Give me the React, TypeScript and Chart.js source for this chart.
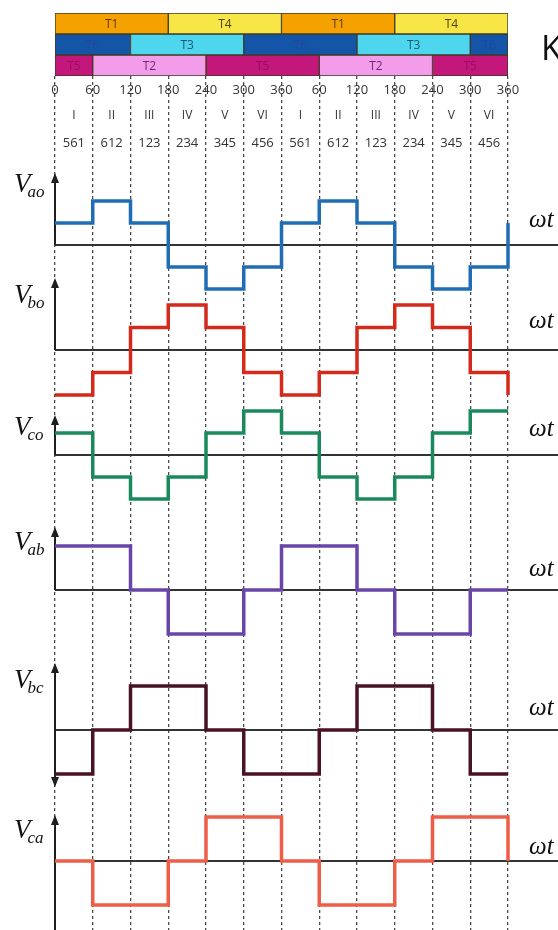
import React, { useEffect, useRef } from "react";
import { Chart, registerables } from "chart.js";

Chart.register(...registerables);

// ---------- data ----------
const angleTickLabels = ["0", "60", "120", "180", "240", "300", "360", "60", "120", "180", "240", "300", "360"];
const sectorNames = ["I", "II", "III", "IV", "V", "VI", "I", "II", "III", "IV", "V", "VI"];
const onSwitches = ["561", "612", "123", "234", "345", "456", "561", "612", "123", "234", "345", "456"];

const switchRows = ["T1/T4", "T6/T3", "T5/T2"];
const row1Names = ["T1", "T4", "T1", "T4"];
const row1Edges = [0, 180, 360, 540, 720];
const row2Names = ["T6", "T3", "T6", "T3", "T6"];
const row2Edges = [0, 120, 300, 480, 660, 720];
const row3Names = ["T5", "T2", "T5", "T2", "T5"];
const row3Edges = [0, 60, 240, 420, 600, 720];

// step start angles (last point = value right at 720)
const angles = [0, 60, 120, 180, 240, 300, 360, 420, 480, 540, 600, 660, 720];
// phase voltages in units of Vdc/3
const vao = [1, 2, 1, -1, -2, -1, 1, 2, 1, -1, -2, -1, 1];
const vbo = [-2, -1, 1, 2, 1, -1, -2, -1, 1, 2, 1, -1, -2];
const vco = [1, -1, -2, -1, 1, 2, 1, -1, -2, -1, 1, 2, 2];
// line voltages in units of Vdc
const vab = [1, 1, 0, -1, -1, 0, 1, 1, 0, -1, -1, 0, 0];
const vbc = [-1, 0, 1, 1, 0, -1, -1, 0, 1, 1, 0, -1, -1];
const vca = [0, -1, -1, 0, 1, 1, 0, -1, -1, 0, 1, 1, 0];

// ---------- styles / layout ----------
const switchColors: Record<string, string> = {
  T1: "#f5a200",
  T4: "#f8e546",
  T6: "#1455a8",
  T3: "#4fd6ef",
  T5: "#c3177c",
  T2: "#f39cea",
};
const switchTextColors: Record<string, string> = {
  T1: "#5a3800",
  T4: "#4a4400",
  T6: "#1d48a0",
  T3: "#17586e",
  T5: "#9a0d60",
  T2: "#6a2a78",
};

const CHART_TOP = 76;
const CHART_BOTTOM = 930;

const panels = [
  { id: "yao", sub: "ao", values: vao, color: "#1f6db5", zeroPx: 245, ppu: 22, axisUp: 72, axisDown: 0, downArrow: false, labelDy: -53, wtDy: -18 },
  { id: "ybo", sub: "bo", values: vbo, color: "#d42a1c", zeroPx: 350, ppu: 22.5, axisUp: 72, axisDown: 0, downArrow: false, labelDy: -47, wtDy: -22 },
  { id: "yco", sub: "co", values: vco, color: "#1a8a5c", zeroPx: 455, ppu: 22, axisUp: 40, axisDown: 0, downArrow: false, labelDy: -20, wtDy: -19 },
  { id: "yab", sub: "ab", values: vab, color: "#6a45a8", zeroPx: 590, ppu: 44, axisUp: 63, axisDown: 0, downArrow: false, labelDy: -40, wtDy: -14 },
  { id: "ybc", sub: "bc", values: vbc, color: "#4a1226", zeroPx: 730, ppu: 44, axisUp: 67, axisDown: 57, downArrow: true, labelDy: -42, wtDy: -15 },
  { id: "yca", sub: "ca", values: vca, color: "#ee5d47", zeroPx: 861, ppu: 44, axisUp: 46, axisDown: 69, downArrow: false, labelDy: -23, wtDy: -7 },
];

function drawArrow(ctx: CanvasRenderingContext2D, x: number, tipY: number, dir: number) {
  // dir -1 = up, 1 = down
  ctx.beginPath();
  ctx.moveTo(x, tipY);
  ctx.lineTo(x - 4, tipY - dir * 10);
  ctx.lineTo(x + 4, tipY - dir * 10);
  ctx.closePath();
  ctx.fill();
}

const barLabelPlugin = {
  id: "barLabels",
  afterDatasetsDraw(chart: any) {
    const ctx = chart.ctx;
    ctx.save();
    ctx.font = "12px 'Open Sans', 'Noto Sans', sans-serif";
    ctx.textAlign = "center";
    ctx.textBaseline = "middle";
    chart.data.datasets.forEach((ds: any, di: number) => {
      const meta = chart.getDatasetMeta(di);
      meta.data.forEach((el: any, i: number) => {
        if (ds.data[i] == null) return;
        const c = el.getCenterPoint();
        ctx.fillStyle = switchTextColors[ds.label] || "#222";
        ctx.fillText(ds.label, c.x, c.y + 1);
      });
    });
    ctx.restore();
  },
};

const decorPlugin = {
  id: "decor",
  beforeDatasetsDraw(chart: any) {
    const ctx = chart.ctx as CanvasRenderingContext2D;
    const left = chart.chartArea.left;
    ctx.save();
    panels.forEach((p) => {
      const y0 = chart.scales[p.id].getPixelForValue(0);
      ctx.strokeStyle = "#333";
      ctx.lineWidth = 2;
      ctx.beginPath();
      ctx.moveTo(left, y0);
      ctx.lineTo(chart.width, y0);
      ctx.stroke();
      const top = y0 - p.axisUp;
      const bottom = y0 + p.axisDown;
      ctx.strokeStyle = "#1e1e1e";
      ctx.fillStyle = "#1e1e1e";
      ctx.beginPath();
      ctx.moveTo(left, top + 6);
      ctx.lineTo(left, p.downArrow ? bottom - 6 : bottom);
      ctx.stroke();
      drawArrow(ctx, left, top, -1);
      if (p.downArrow) drawArrow(ctx, left, bottom, 1);
    });
    ctx.restore();
  },
  afterDatasetsDraw(chart: any) {
    const ctx = chart.ctx as CanvasRenderingContext2D;
    const xs = chart.scales.x;
    ctx.save();
    // sector rows
    ctx.fillStyle = "#333";
    ctx.textAlign = "center";
    ctx.textBaseline = "middle";
    ctx.font = "12px 'Open Sans', 'Noto Sans', sans-serif";
    sectorNames.forEach((s, i) => {
      ctx.fillText(s, xs.getPixelForValue(30 + 60 * i), 116);
    });
    ctx.font = "13px 'Open Sans', 'Noto Sans', sans-serif";
    onSwitches.forEach((s, i) => {
      ctx.fillText(s, xs.getPixelForValue(30 + 60 * i), 143);
    });
    // panel labels
    ctx.textAlign = "left";
    ctx.textBaseline = "alphabetic";
    panels.forEach((p) => {
      const y0 = chart.scales[p.id].getPixelForValue(0);
      const by = y0 + p.labelDy;
      ctx.fillStyle = "#111";
      ctx.font = "italic 27px 'Liberation Serif', serif";
      ctx.fillText("V", 14, by);
      const w = ctx.measureText("V").width;
      ctx.font = "italic 17px 'Liberation Serif', serif";
      ctx.fillText(p.sub, 14 + w - 3, by + 5);
      ctx.font = "italic 25px 'Liberation Serif', serif";
      ctx.fillText("ωt", 529, y0 + p.wtDy);
    });
    ctx.font = "34px 'Open Sans', 'Noto Sans', sans-serif";
    ctx.fillStyle = "#111";
    ctx.textBaseline = "middle";
    ctx.fillText("K", 541, 50);
    ctx.restore();
  },
};

export default function App() {
  const barRef = useRef<HTMLCanvasElement>(null);
  const waveRef = useRef<HTMLCanvasElement>(null);

  useEffect(() => {
    const rowDefs = [
      { names: row1Names, edges: row1Edges },
      { names: row2Names, edges: row2Edges },
      { names: row3Names, edges: row3Edges },
    ];
    const barDatasets: any[] = [];
    rowDefs.forEach((row, r) => {
      row.names.forEach((name, k) => {
        barDatasets.push({
          label: name,
          data: switchRows.map((_, i) => (i === r ? [row.edges[k], row.edges[k + 1]] : null)),
          backgroundColor: switchColors[name],
          borderColor: "#3e3a22",
          borderWidth: 1,
          borderSkipped: false,
          grouped: false,
          barPercentage: 1,
          categoryPercentage: 1,
        });
      });
    });

    const barChart = new Chart(barRef.current!, {
      type: "bar",
      data: { labels: switchRows, datasets: barDatasets },
      options: {
        indexAxis: "y",
        animation: false,
        responsive: false,
        devicePixelRatio: 1,
        events: [],
        layout: { padding: { left: 55, right: 50, top: 13, bottom: 0 } },
        plugins: { legend: { display: false }, tooltip: { enabled: false } },
        scales: {
          x: {
            type: "linear",
            min: 0,
            max: 720,
            grid: { display: false, drawTicks: false },
            border: { display: false },
            ticks: {
              stepSize: 60,
              autoSkip: false,
              maxRotation: 0,
              padding: 6,
              color: "#333",
              font: { size: 13, family: "'Open Sans', 'Noto Sans', sans-serif" },
              callback: (_v: any, i: number) => angleTickLabels[i],
            },
            afterFit: (s: any) => {
              s.height = 24;
            },
          },
          y: { type: "category", display: false },
        },
      } as any,
      plugins: [barLabelPlugin],
    });

    const scales: any = {
      x: {
        type: "linear",
        min: 0,
        max: 720,
        ticks: { display: false, stepSize: 60 },
        grid: { color: "#4a4a4a", lineWidth: 1.3, drawTicks: false },
        border: { display: false, dash: [3, 3] },
        afterFit: (s: any) => {
          s.height = 0;
        },
      },
    };
    panels.forEach((p) => {
      scales[p.id] = {
        type: "linear",
        display: false,
        min: -(CHART_BOTTOM - p.zeroPx) / p.ppu,
        max: (p.zeroPx - CHART_TOP) / p.ppu,
      };
    });

    const waveChart = new Chart(waveRef.current!, {
      type: "line",
      data: {
        datasets: panels.map((p) => ({
          label: "V" + p.sub,
          yAxisID: p.id,
          data: angles.map((a, i) => ({ x: a, y: p.values[i] })),
          borderColor: p.color,
          borderWidth: 3.5,
          pointRadius: 0,
          stepped: "before",
          fill: false,
          clip: 6,
          borderJoinStyle: "miter",
        })),
      },
      options: {
        animation: false,
        responsive: false,
        devicePixelRatio: 1,
        events: [],
        layout: { padding: { left: 55, right: 50, top: CHART_TOP, bottom: 0 } },
        plugins: { legend: { display: false }, tooltip: { enabled: false } },
        scales,
      } as any,
      plugins: [decorPlugin],
    });

    return () => {
      barChart.destroy();
      waveChart.destroy();
    };
  }, []);

  return (
    <div style={{ position: "absolute", left: 0, top: 0, width: 558, height: 930, background: "#fff", overflow: "hidden" }}>
      <canvas ref={waveRef} width={558} height={930} style={{ position: "absolute", left: 0, top: 0 }} />
      <canvas ref={barRef} width={558} height={100} style={{ position: "absolute", left: 0, top: 0 }} />
    </div>
  );
}
